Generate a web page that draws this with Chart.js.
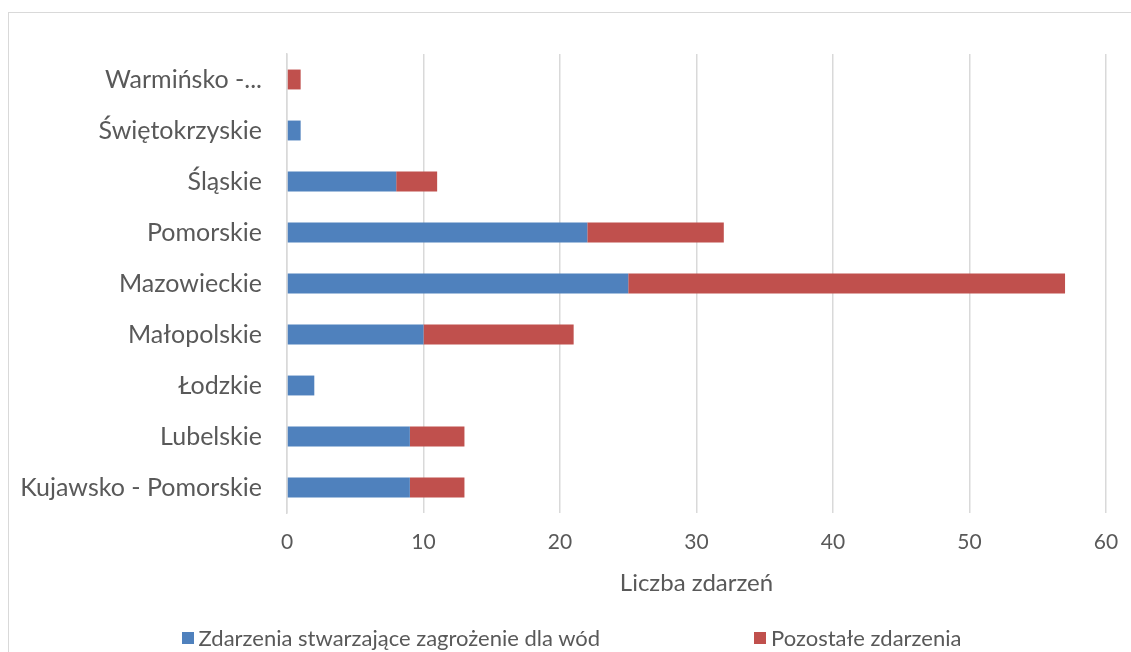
<!DOCTYPE html>
<html>
<head>
<meta charset="utf-8">
<script src="https://cdn.jsdelivr.net/npm/chart.js@4"></script>
<style>
  body { margin: 0; background: #fff; }
  #wrap { position: relative; width: 1131px; height: 652px; overflow: hidden; }
  #frame { position: absolute; left: 8px; top: 12px; width: 1200px; height: 700px; border: 1px solid #d9d9d9; box-sizing: border-box; }
  #factory { position: absolute; left: 0; top: 0; }
  #legend { position: absolute; left: 0; top: 624px; width: 1143px; display: flex; justify-content: center; gap: 154px;
            font-family: Lato, sans-serif; font-size: 22px; color: #595959; }
  #legend span.item { display: flex; align-items: center; }
  #legend span.box { width: 12px; height: 12px; margin-right: 5px; display: inline-block; }
</style>
</head>
<body>
<div id="wrap">
  <div id="frame"></div>
  <canvas id="factory" width="1131" height="652"></canvas>
  <div id="legend"></div>
</div>
<script>
// województwa, od góry wykresu
const regions = [
    "Warmińsko - Mazurskie",
    "Świętokrzyskie",
    "Śląskie",
    "Pomorskie",
    "Mazowieckie",
    "Małopolskie",
    "Łodzkie",
    "Lubelskie",
    "Kujawsko - Pomorskie",
];
const waterThreat = [0, 1, 8, 22, 25, 10, 2, 9, 9];
const otherEvents = [1, 0, 3, 10, 32, 11, 0, 4, 4];
const xTicks = [0, 10, 20, 30, 40, 50, 60];

const factory = document.getElementById("factory");
const textColor = "#595959";
const gridColor = "#d9d9d9";

const chart = new Chart(factory, {
    type: "bar",
    data: {
        labels: regions,
        datasets: [
            {
                label: "Zdarzenia stwarzające zagrożenie dla wód",
                data: waterThreat,
                backgroundColor: "#4f81bd",
                barPercentage: 0.39,
                categoryPercentage: 1,
            },
            {
                label: "Pozostałe zdarzenia",
                data: otherEvents,
                backgroundColor: "#c0504d",
                barPercentage: 0.39,
                categoryPercentage: 1,
            },
        ],
    },
    options: {
        indexAxis: "y",
        responsive: false,
        animation: false,
        layout: { padding: { top: 54, right: 25, bottom: 49, left: 0 } },
        scales: {
            x: {
                stacked: true,
                min: 0,
                max: 60,
                afterBuildTicks: function (scale) {
                    scale.ticks = xTicks.map(v => ({ value: v }));
                },
                afterFit: function (scale) {
                    scale.height = 90;
                    scale.paddingLeft = 0;
                    scale.paddingRight = 0;
                },
                border: { display: false },
                grid: { color: gridColor, lineWidth: 1.5, drawTicks: false },
                ticks: {
                    padding: 17,
                    color: textColor,
                    font: { family: "Lato", size: 21 },
                },
                title: {
                    display: true,
                    text: "Liczba zdarzeń",
                    color: textColor,
                    font: { family: "Lato", size: 24 },
                    padding: { top: 4, bottom: 5 },
                },
            },
            y: {
                stacked: true,
                afterFit: function (scale) {
                    scale.width = 287;
                },
                border: { display: true, color: gridColor, width: 1.5 },
                grid: { display: false, drawTicks: false },
                ticks: {
                    padding: 25,
                    color: textColor,
                    font: { family: "Lato", size: 25 },
                    callback: function (value) {
                        const label = this.getLabelForValue(value);
                        return label.length > 20 ? label.slice(0, 11) + "..." : label;
                    },
                },
            },
        },
        plugins: {
            legend: { display: false },
            tooltip: { enabled: false },
        },
    },
});

// legenda pod wykresem
const legend = document.getElementById("legend");
chart.data.datasets.forEach(ds => {
    const item = document.createElement("span");
    item.className = "item";
    const box = document.createElement("span");
    box.className = "box";
    box.style.background = ds.backgroundColor;
    item.appendChild(box);
    item.appendChild(document.createTextNode(ds.label));
    legend.appendChild(item);
});
</script>
</body>
</html>
